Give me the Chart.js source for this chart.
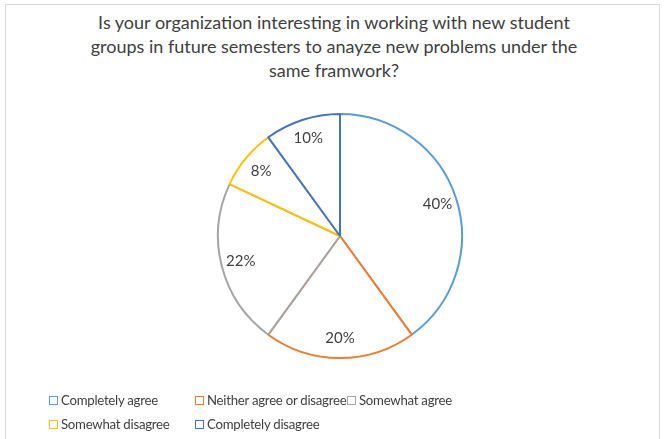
<!DOCTYPE html>
<html>
<head>
<meta charset="utf-8">
<script src="https://cdn.jsdelivr.net/npm/chart.js@4"></script>
<style>
  body { margin: 0; background: #fff; }
  #wrap { position: relative; width: 668px; height: 439px; overflow: hidden; font-family: Lato, sans-serif; color: #404040; }
  #frame { position: absolute; left: 5px; top: 4px; width: 653px; height: 460px; border: 1px solid #d9d9d9; }
  #title { position: absolute; left: 0; top: 10px; width: 668px; text-align: center; font-size: 18px; line-height: 24px; }
  canvas { position: absolute; left: 0; top: 0; }
  #legend { position: absolute; left: 49px; top: 391px; display: grid; grid-template-columns: 146px 152px 170px; row-gap: 6px; font-size: 13.2px; letter-spacing: -0.25px; }
  .item { display: flex; align-items: center; height: 18px; white-space: nowrap; }
  .box { flex: none; width: 7px; height: 7px; border: 1.5px solid; margin-right: 3px; background: #fff; }
</style>
</head>
<body>
<div id="wrap">
  <div id="frame"></div>
  <div id="title">Is your organization interesting in working with new student<br>groups in future semesters to anayze new problems under the<br>same framwork?</div>
  <canvas id="pieChart" width="668" height="439"></canvas>
  <div id="legend"></div>
</div>
<script>
// answers and their share of responses (%)
const answers = ['Completely agree', 'Neither agree or disagree', 'Somewhat agree', 'Somewhat disagree', 'Completely disagree'];
const shares = [40, 20, 22, 8, 10];
const sliceColors = ['#5B9BD5', '#ED7D31', '#A5A5A5', '#FFC000', '#4472C4'];

// percent labels inside each slice
const sliceLabels = {
  id: 'sliceLabels',
  afterDatasetsDraw(chart) {
    const ctx = chart.ctx;
    const meta = chart.getDatasetMeta(0);
    ctx.save();
    ctx.font = '15px Lato, sans-serif';
    ctx.fillStyle = '#404040';
    ctx.textAlign = 'center';
    ctx.textBaseline = 'middle';
    meta.data.forEach((arc, i) => {
      const p = arc.getProps(['x', 'y', 'startAngle', 'endAngle', 'outerRadius'], true);
      const mid = (p.startAngle + p.endAngle) / 2;
      const r = p.outerRadius * 0.84;
      ctx.fillText(shares[i] + '%', p.x + Math.cos(mid) * r, p.y + Math.sin(mid) * r);
    });
    ctx.restore();
  }
};

const ctx = document.getElementById('pieChart').getContext('2d');
const pieChart = new Chart(ctx, {
  type: 'pie',
  data: {
    labels: answers,
    datasets: [{
      data: shares,
      backgroundColor: '#ffffff',
      borderColor: sliceColors,
      borderWidth: 2,
      radius: 122
    }]
  },
  options: {
    responsive: false,
    animation: false,
    layout: { padding: { left: 210, right: 198, top: 106, bottom: 73 } },
    plugins: {
      legend: { display: false },
      tooltip: { enabled: false }
    }
  },
  plugins: [sliceLabels]
});

// legend built from the same arrays
const legend = document.getElementById('legend');
answers.forEach((name, i) => {
  const item = document.createElement('div');
  item.className = 'item';
  item.innerHTML = '<span class="box" style="border-color:' + sliceColors[i] + '"></span>' + name;
  legend.appendChild(item);
});
</script>
</body>
</html>
